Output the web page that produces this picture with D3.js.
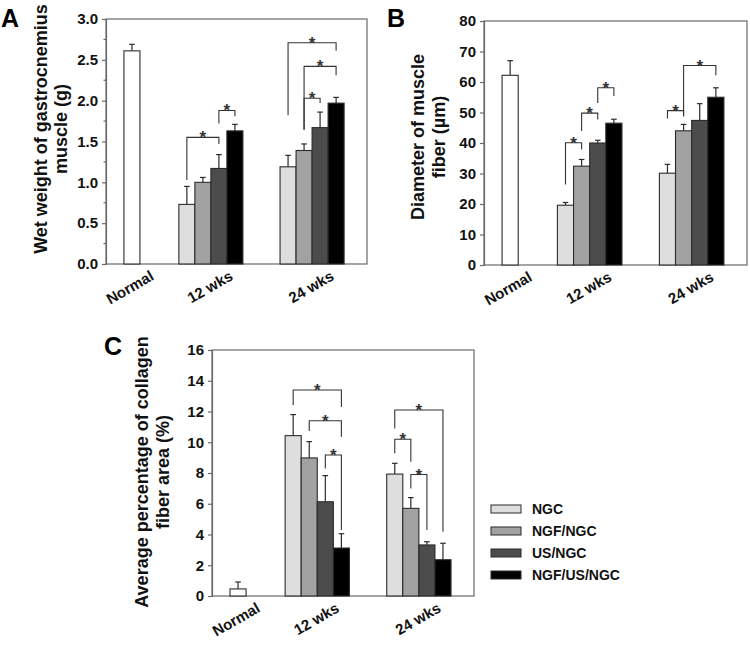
<!DOCTYPE html>
<html><head><meta charset="utf-8">
<script src="https://cdn.jsdelivr.net/npm/d3@7"></script>
<style>body{margin:0;background:#fff}svg{display:block;font-family:"Liberation Sans",Arial,sans-serif}</style>
</head><body>
<svg id="chart" width="750" height="645"></svg>
<script>
// ---------- data ----------
const categories = ["Normal", "12 wks", "24 wks"];
const series = ["NGC", "NGF/NGC", "US/NGC", "NGF/US/NGC"];

// Panel A: wet weight of gastrocnemius muscle (g)
const weightNormal = [2.61], weightNormalErr = [0.08];
const weight12 = [0.73, 1.00, 1.17, 1.63], weight12Err = [0.22, 0.06, 0.17, 0.08];
const weight24 = [1.19, 1.39, 1.67, 1.97], weight24Err = [0.14, 0.08, 0.19, 0.07];
const weightTicks = [0, 0.5, 1.0, 1.5, 2.0, 2.5, 3.0];
// brackets: [group, from, to, line y, left leg end, right leg end]
const weightBrackets = [[1,0,2,1.55,1.03,1.47],[1,2,3,1.88,1.72,1.81],
  [2,0,3,2.71,1.82,2.61],[2,1,3,2.42,1.64,2.31],[2,1,2,2.03,1.65,1.97]];

// Panel B: diameter of muscle fiber (µm)
const diamNormal = [62.2], diamNormalErr = [4.8];
const diam12 = [19.6, 32.4, 40.0, 46.5], diam12Err = [0.9, 2.2, 0.9, 1.3];
const diam24 = [30.1, 44.0, 47.4, 55.0], diam24Err = [2.9, 2.1, 5.5, 3.1];
const diamTicks = [0, 10, 20, 30, 40, 50, 60, 70, 80];
const diamBrackets = [[1,0,1,40.1,26.4,37.9],[1,1,2,49.8,43.9,47.7],[1,2,3,58.1,53.1,55.4],
  [2,0,1,50.6,48.0,48.7],[2,1,3,65.4,49.1,62.2]];

// Panel C: average percentage of collagen fiber area (%)
const collNormal = [0.46], collNormalErr = [0.45];
const coll12 = [10.43, 8.98, 6.13, 3.12], coll12Err = [1.37, 1.06, 1.70, 0.93];
const coll24 = [7.93, 5.70, 3.32, 2.36], coll24Err = [0.70, 0.70, 0.21, 1.07];
const collTicks = [0, 2, 4, 6, 8, 10, 12, 14, 16];
const collBrackets = [[1,0,3,13.4,12.42,12.3],[1,1,3,11.4,10.73,10.36],[1,2,3,9.17,8.3,4.29],
  [2,0,3,12.1,10.9,4.18],[2,0,1,10.2,9.28,8.73],[2,1,2,7.9,7.0,4.29]];

// ---------- styles ----------
const seriesColors = ["#dedede", "#a2a2a2", "#4c4c4c", "#000000"];
const normalColor = "#ffffff";
const frameColor = "#6a6a6a";
const barStroke = "#2b2b2b";

const svg = d3.select("#chart");

// layout in bar-width units
const slotDomain = 16.3;
const groupStart = [1.12, 4.55, 10.87];

function panel(opt) {
  const g = svg.append("g").attr("transform", `translate(${opt.left},${opt.top})`);
  const W = opt.width, H = opt.height;
  const x = d3.scaleLinear().domain([0, slotDomain]).range([0, W]);
  const y = d3.scaleLinear().domain([opt.ticks[0], opt.ticks[opt.ticks.length - 1]]).range([H, 0]);

  // frame
  g.append("rect").attr("x", 0).attr("y", 0).attr("width", W).attr("height", H)
    .attr("fill", "none").attr("stroke", frameColor).attr("stroke-width", 1.2);

  // y axis
  const ax = d3.axisLeft(y).tickValues(opt.ticks).tickSize(4).tickPadding(4).tickFormat(opt.fmt);
  const ag = g.append("g").call(ax);
  ag.select(".domain").attr("stroke", frameColor).attr("stroke-width", 1.2);
  ag.selectAll(".tick line").attr("stroke", frameColor).attr("stroke-width", 1.2);
  ag.selectAll(".tick text").attr("font-size", 15).attr("font-weight", "bold")
    .attr("fill", "#111").attr("font-family", '"Liberation Sans",Arial,sans-serif');
  if (opt.minor) {
    g.append("g").selectAll("line").data(opt.minor).join("line")
      .attr("x1", -2.5).attr("x2", 0).attr("y1", d => y(d)).attr("y2", d => y(d))
      .attr("stroke", frameColor).attr("stroke-width", 1.2);
  }

  // bars
  const bars = [];
  bars.push({slot: groupStart[0], v: opt.normal[0], e: opt.normalErr[0], c: normalColor});
  opt.g12.forEach((v, i) => bars.push({slot: groupStart[1] + i, v, e: opt.g12Err[i], c: seriesColors[i]}));
  opt.g24.forEach((v, i) => bars.push({slot: groupStart[2] + i, v, e: opt.g24Err[i], c: seriesColors[i]}));
  const bw = x(1) - x(0);

  const eg = g.append("g");
  bars.forEach(b => {
    const cx = x(b.slot + 0.5);
    eg.append("line").attr("x1", cx).attr("x2", cx).attr("y1", y(b.v)).attr("y2", y(b.v + b.e))
      .attr("stroke", barStroke).attr("stroke-width", 1.2);
    eg.append("line").attr("x1", cx - 2.8).attr("x2", cx + 2.8).attr("y1", y(b.v + b.e)).attr("y2", y(b.v + b.e))
      .attr("stroke", barStroke).attr("stroke-width", 1.2);
  });
  g.append("g").selectAll("rect").data(bars).join("rect")
    .attr("x", d => x(d.slot)).attr("width", bw)
    .attr("y", d => y(d.v)).attr("height", d => H - y(d.v))
    .attr("fill", d => d.c).attr("stroke", barStroke).attr("stroke-width", 1.1);

  // significance brackets
  const bg = g.append("g");
  opt.brackets.forEach(([grp, a, b, yl, ya, yb]) => {
    const xa = x(groupStart[grp] + a + 0.5), xb = x(groupStart[grp] + b + 0.5);
    bg.append("path")
      .attr("d", `M${xa},${y(ya)}V${y(yl)}H${xb}V${y(yb)}`)
      .attr("fill", "none").attr("stroke", "#333").attr("stroke-width", 1.1);
    bg.append("text").attr("x", (xa + xb) / 2).attr("y", y(yl) + 6)
      .attr("text-anchor", "middle").attr("font-size", 17).attr("font-weight", "bold")
      .attr("fill", "#333").text("*");
  });

  // x labels
  const centers = [groupStart[0] + 0.5, groupStart[1] + 2, groupStart[2] + 2];
  g.append("g").selectAll("text").data(categories).join("text")
    .attr("transform", (d, i) => `translate(${x(centers[i]) + 23},${H + 15}) rotate(-30)`)
    .attr("text-anchor", "end").attr("font-size", 15).attr("font-weight", "bold").attr("fill", "#111")
    .text(d => d);

  // y title
  const tg = svg.append("g");
  opt.title.forEach((t, i) => {
    tg.append("text")
      .attr("transform", `translate(${opt.titleX[i]},${opt.titleY}) rotate(-90)`)
      .attr("text-anchor", "middle").attr("font-size", 18).attr("font-weight", "bold").attr("fill", "#111")
      .text(t);
  });
  svg.append("text").attr("x", opt.letterX).attr("y", opt.letterY)
    .attr("font-size", 25).attr("font-weight", "bold").attr("fill", "#000").text(opt.letter);
}

panel({left: 106, top: 19, width: 261, height: 245, ticks: weightTicks, fmt: d3.format(".1f"),
  minor: [0.25, 0.75, 1.25, 1.75, 2.25, 2.75],
  normal: weightNormal, normalErr: weightNormalErr, g12: weight12, g12Err: weight12Err,
  g24: weight24, g24Err: weight24Err, brackets: weightBrackets,
  title: ["Wet weight of gastrocnemius", "muscle (g)"], titleX: [47, 67], titleY: 129,
  letter: "A", letterX: 1, letterY: 27});

panel({left: 484, top: 21, width: 263, height: 244, ticks: diamTicks, fmt: d3.format("d"),
  normal: diamNormal, normalErr: diamNormalErr, g12: diam12, g12Err: diam12Err,
  g24: diam24, g24Err: diam24Err, brackets: diamBrackets,
  title: ["Diameter of muscle", "fiber (µm)"], titleX: [424, 445], titleY: 137,
  letter: "B", letterX: 387, letterY: 27});

panel({left: 212, top: 350, width: 262, height: 246, ticks: collTicks, fmt: d3.format("d"),
  normal: collNormal, normalErr: collNormalErr, g12: coll12, g12Err: coll12Err,
  g24: coll24, g24Err: coll24Err, brackets: collBrackets,
  title: ["Average percentage of collagen", "fiber area (%)"], titleX: [148, 169], titleY: 472,
  letter: "C", letterX: 104, letterY: 355});

// legend
const lg = svg.append("g").attr("transform", "translate(491,509)");
series.forEach((s, i) => {
  const row = lg.append("g").attr("transform", `translate(0,${i * 22})`);
  row.append("rect").attr("x", 0).attr("y", -4).attr("width", 30).attr("height", 8)
    .attr("fill", seriesColors[i]).attr("stroke", barStroke).attr("stroke-width", 1);
  row.append("text").attr("x", 41).attr("y", 0).attr("dy", "0.35em")
    .attr("font-size", 14).attr("font-weight", "bold").attr("fill", "#111").text(s);
});
</script>
</body></html>
